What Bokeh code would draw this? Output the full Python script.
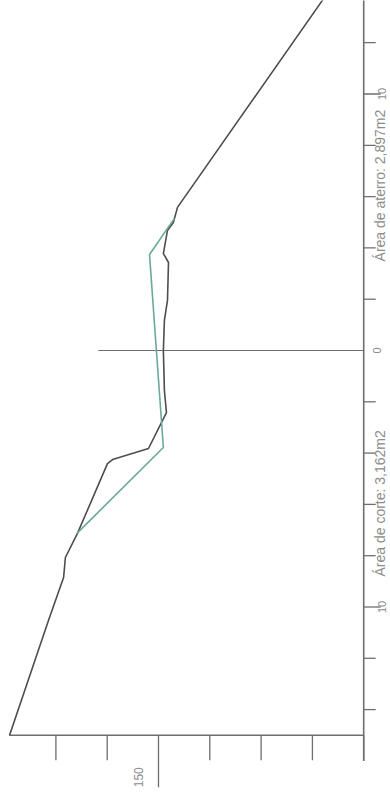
import math
from bokeh.plotting import figure
from bokeh.models import Range1d
from bokeh.core.properties import value
from bokeh.embed import file_html
from bokeh.resources import INLINE

# ---- data (elevation, offset from centerline) ----
terrain_elev = [142.05, 143.61, 149.26, 149.42, 149.65, 149.81, 149.61, 149.65, 149.77, 149.81,
                149.77, 149.69, 150.39, 151.79, 151.99, 153.16, 153.63, 153.70, 154.29, 155.81]
terrain_dist = [15.87, 13.65, 5.58, 4.99, 4.68, 3.78, 3.43, 1.95, 1.17, 0.0,
                -1.56, -2.42, -3.82, -4.25, -4.41, -7.13, -8.07, -8.85, -10.53, -15.01]

project_elev = [149.38, 150.35, 149.81, 153.18]
project_dist = [5.15, 3.74, -3.78, -7.13]

dist_ticks = [-14, -12, -10, -8, -6, -4, -2, 2, 4, 6, 8, 10, 12]
dist_major = [-10, 10]
dist_label_vals = [10, 0, -10]
dist_label_text = ["10", "0", "10"]

elev_ticks = [142, 144, 146, 148, 150, 152, 154]
elev_major = [150]
elev_label_text = ["150"]

area_text = ["Área de aterro: 2,897m2", "Área de corte: 3,162m2"]
area_dist = [6.43, -5.96]

axis_elev = 142.0     # right axis (baseline of the section)
left_dist = -15.0     # left limit line of the section
axis_bottom = -16.0
center_top = 152.35

# ---- figure ----
PX = 25.65
p = figure(width=390, height=798, output_backend="svg", toolbar_location=None,
           x_range=Range1d(150 + 158 / PX, 150 - 232 / PX),
           y_range=Range1d(-448 / PX, 350 / PX),
           x_axis_location=None, y_axis_location=None, min_border=0)
p.grid.visible = False
p.outline_line_color = None
p.background_fill_color = "white"

axis_col = "#6e6e6e"
lab_col = "#8c8c8c"

# right axis line
p.segment(x0=[axis_elev], y0=[axis_bottom], x1=[axis_elev], y1=[14.5], line_color=axis_col, line_width=1.6)
# ticks on right axis
short = 12 / PX
long_ = 17 / PX
p.segment(x0=[axis_elev] * len(dist_ticks), y0=dist_ticks,
          x1=[axis_elev - (long_ if t in dist_major else short) for t in dist_ticks], y1=dist_ticks,
          line_color=axis_col, line_width=1.3)
# tick labels (right)
lab_x = [axis_elev - (18 if t != 0 else 13) / PX for t in dist_label_vals]
p.text(x=lab_x, y=dist_label_vals, text=dist_label_text, angle=math.pi / 2,
       text_align="center", text_baseline="middle", text_font=value("Liberation Sans"),
       text_font_size="11px", text_color=lab_col)

# left limit line (bottom of picture)
p.segment(x0=[axis_elev], y0=[left_dist], x1=[terrain_elev[-1]], y1=[left_dist], line_color=axis_col, line_width=1.6)
# ticks on it
p.segment(x0=elev_ticks, y0=[left_dist] * len(elev_ticks), x1=elev_ticks,
          y1=[left_dist - ((52 if e in elev_major else 25) / PX) for e in elev_ticks],
          line_color=axis_col, line_width=1.3)
p.text(x=[e + 20 / PX for e in elev_major], y=[left_dist - 42 / PX], text=elev_label_text, angle=math.pi / 2,
       text_align="center", text_baseline="middle", text_font=value("Liberation Sans"),
       text_font_size="12px", text_color=lab_col)

# centerline
p.segment(x0=[axis_elev], y0=[0], x1=[center_top], y1=[0], line_color=axis_col, line_width=1.2)

# area texts
p.text(x=[axis_elev - 16 / PX] * 2, y=area_dist, text=area_text, angle=math.pi / 2,
       text_align="center", text_baseline="middle", text_font=value("Liberation Sans"),
       text_font_size="14px", text_color=lab_col)

# profiles
p.line(terrain_elev, terrain_dist, line_color="#4d4d4d", line_width=1.6)
p.line(project_elev, project_dist, line_color="#6aa99a", line_width=1.6)

open("out.html", "w").write(file_html(p, INLINE))
